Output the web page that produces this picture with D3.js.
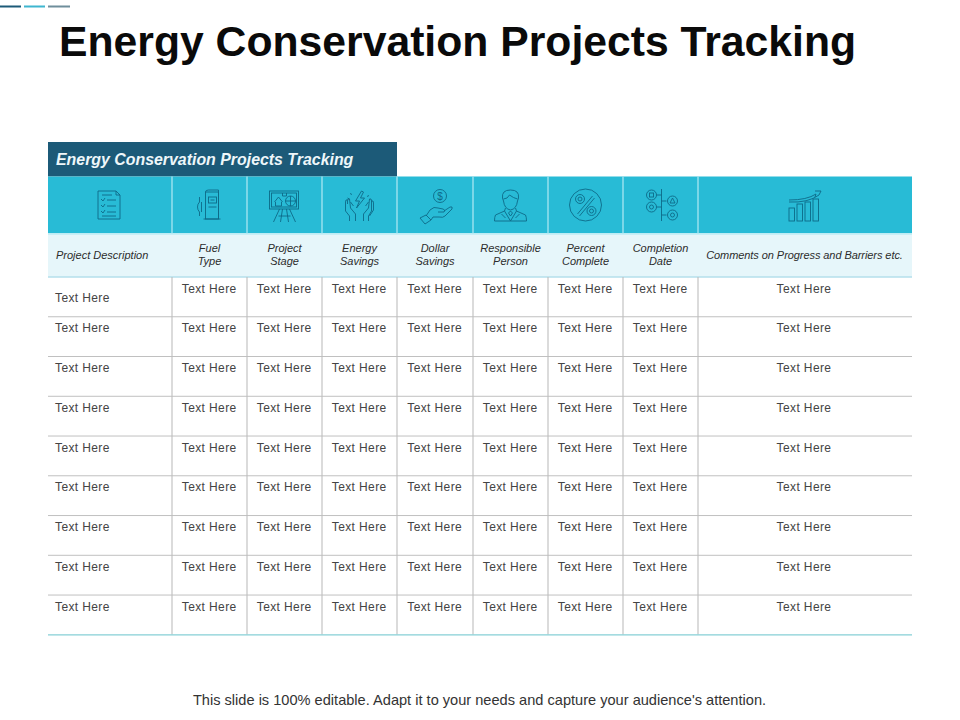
<!DOCTYPE html>
<html><head><meta charset="utf-8">
<script src="https://cdn.jsdelivr.net/npm/d3@7/dist/d3.min.js"></script>
<style>html,body{margin:0;padding:0;background:#fff}svg{display:block}text{font-family:"Liberation Sans",Arial,sans-serif}</style>
</head><body><div id="c"></div>
<script>
const title = "Energy Conservation Projects Tracking";
const footer = "This slide is 100% editable. Adapt it to your needs and capture your audience's attention.";
const columns = ["desc","fuel","stage","energy","dollar","person","percent","date","comments"];
const headerLines = [["Project Description"],["Fuel","Type"],["Project","Stage"],["Energy","Savings"],["Dollar","Savings"],["Responsible","Person"],["Percent","Complete"],["Completion","Date"],["Comments on Progress and Barriers etc."]];
const rowIds = [1,2,3,4,5,6,7,8,9];
const cellText = "Text Here";

const W=960,H=720;
const svg=d3.select("#c").append("svg").attr("width",W).attr("height",H);
// layout
const edges=[48,172,247,322,397,473,548,623,698,912];
const x=d3.scaleOrdinal().domain(columns).range(edges);
const xEnd=d3.scaleOrdinal().domain(columns).range(edges.slice(1));
const cx=c=>(x(c)+xEnd(c))/2;
const y=d3.scaleBand().domain(rowIds).range([277,634.8]);
const ICON="#0d6a88", TEAL="#28bbd6", NAVY="#1c5a78";

// top accent dashes
[[0,21,"#1c5a78"],[24,45,"#3fb6cf"],[48,70,"#6f8e9b"]].forEach(d=>svg.append("rect").attr("x",d[0]).attr("y",5.5).attr("width",d[1]-d[0]).attr("height",2).attr("fill",d[2]));

svg.append("text").attr("x",59).attr("y",56).attr("font-size",42.7).attr("font-weight",700).attr("fill","#0a0a0a").text(title);

// banner
svg.append("rect").attr("x",48).attr("y",142).attr("width",349).attr("height",34.5).attr("fill",NAVY);
svg.append("text").attr("x",56).attr("y",164.5).attr("font-size",15.9).attr("font-weight",700).attr("font-style","italic").attr("fill","#eef7fa").text(title);

// icon band & label band
svg.append("rect").attr("x",48).attr("y",176.5).attr("width",864).attr("height",57).attr("fill",TEAL);
svg.append("rect").attr("x",48).attr("y",233.5).attr("width",864).attr("height",43).attr("fill","#e6f6fa");
svg.append("line").attr("x1",48).attr("x2",912).attr("y1",234).attr("y2",234).attr("stroke","#bfecf4").attr("stroke-width",1.5);
svg.append("line").attr("x1",48).attr("x2",912).attr("y1",277).attr("y2",277).attr("stroke","#8fd0e2").attr("stroke-width",1.2);
svg.selectAll(".sep").data(columns.slice(1)).enter().append("line").attr("x1",x).attr("x2",x).attr("y1",176.5).attr("y2",233.5).attr("stroke","#a8e6f2").attr("stroke-width",1.3);

// header labels
const hdr=svg.selectAll(".hdr").data(columns).enter().append("text").attr("font-size",11).attr("font-style","italic").attr("fill","#2c2c2c");
hdr.each(function(c,i){
  const lines=headerLines[i], t=d3.select(this);
  if(lines.length===1){
    t.attr("x",i===0?56:cx(c)-0.5).attr("y",259).attr("text-anchor",i===0?"start":"middle").text(lines[0]).attr("letter-spacing",i===0?0:-0.07);
  } else lines.forEach((l,j)=>t.append("tspan").attr("x",cx(c)).attr("y",252+j*13).attr("text-anchor","middle").text(l));
});

// grid
svg.selectAll(".r").data(rowIds.slice(0,-1)).enter().append("line").attr("x1",48).attr("x2",912).attr("y1",d=>y(d)+y.bandwidth()).attr("y2",d=>y(d)+y.bandwidth()).attr("stroke","#c0c0c0").attr("stroke-width",1);
svg.selectAll(".v").data(columns.slice(1)).enter().append("line").attr("x1",x).attr("x2",x).attr("y1",277).attr("y2",634.5).attr("stroke","#bdbdbd").attr("stroke-width",1.1);
svg.append("line").attr("x1",48).attr("x2",912).attr("y1",634.8).attr("y2",634.8).attr("stroke","#86cfd6").attr("stroke-width",1.3);

// cells
rowIds.forEach((r,ri)=>columns.forEach((c,ci)=>{
  const t=svg.append("text").attr("font-size",12).attr("letter-spacing",0.38).attr("fill","#444").text(cellText);
  const top=y(r)+15.5;
  if(ci===0) t.attr("x",55).attr("y",ri===0?top+9:top);
  else t.attr("x",cx(c)+(ci===8?-1:-0.3)).attr("y",top).attr("text-anchor","middle");
}));

svg.append("text").attr("x",479.5).attr("y",705).attr("text-anchor","middle").attr("font-size",14.6).attr("fill","#333").text(footer);

// icons (decorative line glyphs), drawn around each column's icon centre
function icon(c,dx,draw){
  const g=svg.append("g").attr("transform",`translate(${cx(c)+dx},205)`).attr("fill","none").attr("stroke",ICON).attr("stroke-width",0.9);
  draw(g);
}
const P=(g,d)=>g.append("path").attr("d",d);
const C=(g,a,b,r)=>g.append("circle").attr("cx",a).attr("cy",b).attr("r",r);
const R=(g,a,b,w,h)=>g.append("rect").attr("x",a).attr("y",b).attr("width",w).attr("height",h);

icon("desc",-1,g=>{
  P(g,"M-11,-14H7L11,-10V14H-11ZM7,-14V-10H11");
  P(g,"M-7,-10H3M-8,-6L-6,-4L-4,-7M-2,-5H7M-8,0L-6,2L-4,-1M-2,1H7M-8,6L-6,8L-4,5M-2,7H7M-7,11H7");
});
icon("fuel",0,g=>{
  R(g,-4,-13,13,27);P(g,"M-4,-13Q-4,-15,-1,-15H9V14");R(g,-1,-8,8,6);
  P(g,"M1,-5H5M-1,2H7M-6,14H11");
  P(g,"M-10,-8V-3Q-12,-1,-12,2Q-12,5,-10,7V11M-8,-3V7");
});
icon("stage",0,g=>{
  R(g,-15,-14,29,18);R(g,-13,-12,25,14);
  P(g,"M-10,-3L-6,-8L-2,-3M-9,-3V1H-3V-3M-2,-12V-9H2V-12");C(g,6,-4,5);P(g,"M6,-9V1M1,-4H11");
  P(g,"M-5,4L-11,17M5,4L11,17M-2,4L-4,17M2,4L4,17M-6,11H6");
});
icon("energy",0,g=>{
  P(g,"M2,-14L-4,-4H0L-3,3L5,-7H1L4,-13Z");
  P(g,"M-9,-12L-8,-10M-12,-7L-10,-6M9,-10L8,-8");
  P(g,"M-4,16V9L-9,3L-10,-6Q-12,-7,-12,-4L-12,-1M-12,-5Q-14,-6,-14,-3V6L-10,11V16M-6,1L-9,-3");
  P(g,"M4,16V9L9,3L10,-6Q12,-7,12,-4V6L9,11V16M12,-4Q14,-5,14,-2V5L10,11M6,1L9,-3");
});
icon("dollar",1,g=>{
  C(g,4,-9,6.5);
  g.append("text").attr("x",4).attr("y",-5.5).attr("text-anchor","middle").attr("font-size",10).attr("fill",ICON).attr("stroke","none").text("$");
  P(g,"M-10,11L-6,5Q-2,1,2,3L7,4Q10,5,8,7L2,7M8,6L14,2Q17,1,16,4L9,11Q7,13,3,12L-3,12L-5,15");
  P(g,"M-10,10L-16,13L-11,19L-5,15Z");
});
icon("person",0,g=>{
  P(g,"M-8,-7Q-9,-15,0,-15Q9,-15,8,-7L7,-4Q6,4,0,5Q-6,4,-7,-4Z");
  P(g,"M-7,-6Q-3,-6,-1,-10Q3,-7,7,-6");
  P(g,"M-5,3L-6,6L-15,10Q-16,12,-16,16H16Q16,12,15,10L6,6L5,3");
  P(g,"M-6,6L0,16L6,6M-2,8L0,11L2,8L0,6ZM-9,9L-5,13M9,9L5,13");
});
icon("percent",0,g=>{
  C(g,0,0,16);C(g,-5.5,-6,4.5);C(g,-5.5,-6,2);C(g,6,6,4.5);C(g,6,6,2);
  P(g,"M7,-9L-8,9M9,-7L-6,11");
});
icon("date",1,g=>{
  P(g,"M0,-16V16M-5,-10H0M-5,2H0M0,-4H5M0,10H5");
  C(g,-10,-10,5);R(g,-12,-12,4,4);C(g,-10,2,5);C(g,-10,2,2);
  C(g,11,-4,5);P(g,"M11,-7L13.5,-2H8.5Z");C(g,11,10,5);C(g,11,10,2);
});
icon("comments",0,g=>{
  R(g,-16,3,5.5,13);R(g,-8,-1,5.5,17);R(g,0,-3,5.5,19);R(g,8,-6,5.5,22);
  P(g,"M-16,-5Q2,-5,11,-11L10,-8M-16,-3Q3,-2,14,-10L16,-14L10,-14M11,-11");
});
</script></body></html>
